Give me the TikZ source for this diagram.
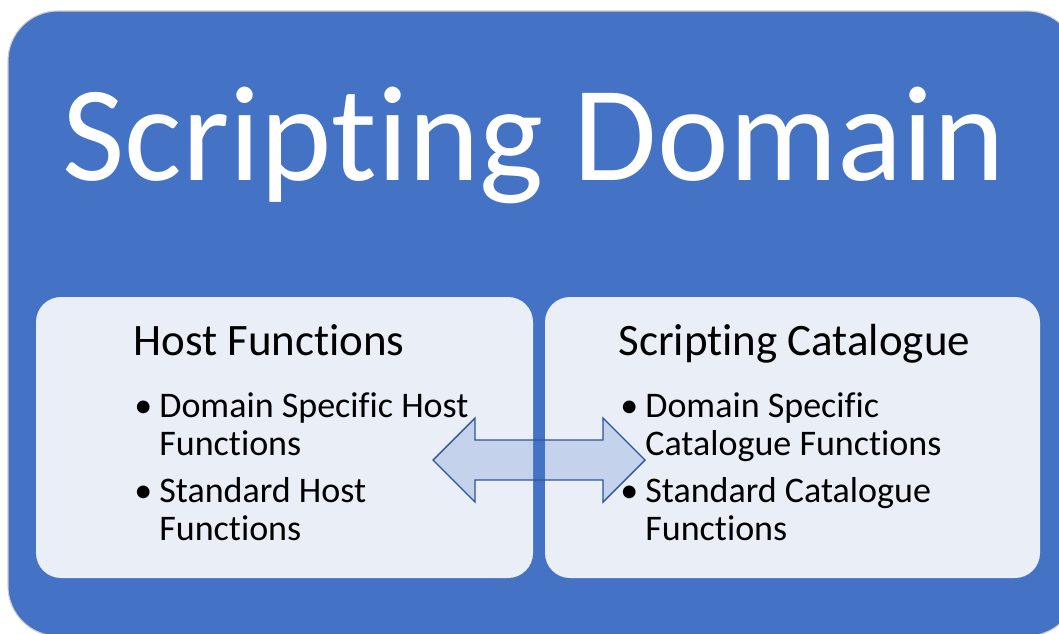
\documentclass[tikz,border=0pt]{standalone}
\usepackage{fontspec}
\setmainfont{Carlito}[RawFeature=-liga]
\usepackage{tikz}
\usetikzlibrary{positioning}
\definecolor{domainblue}{HTML}{4472C4}
\definecolor{panelfill}{HTML}{E9EEF7}
\definecolor{arrowline}{HTML}{2F5597}

\begin{document}
\begin{tikzpicture}[
    x=0.02cm, y=-0.02cm,
    domainbox/.style={fill=domainblue, draw=black!20, line width=0.6pt, rounded corners=1cm},
    panel/.style={fill=panelfill, rounded corners=0.5cm},
    dblarrow/.style={fill=domainblue, fill opacity=0.22, draw=arrowline, draw opacity=1, line width=0.8pt, line join=miter},
    ttl/.style={anchor=base, inner sep=0pt, text=white, font=\fontsize{77.3}{80}\selectfont},
    hdr/.style={anchor=base west, inner sep=0pt, font=\fontsize{25.6}{30}\selectfont},
    bul/.style={anchor=base west, inner sep=0pt, font=\fontsize{20.5}{21.5}\selectfont},
    itm/.style={anchor=base west, inner sep=0pt, align=left, font=\fontsize{20.5}{21.5}\selectfont},
  ]
  \useasboundingbox (0,0) rectangle (1059,633);
  \clip (0,0) rectangle (1059,633);

  % outer domain
  \fill[white] (0,0) rectangle (1059,633);
  \draw[domainbox] (8,11) rectangle (1077,636);
  \node[ttl] (title) at (534,180) {Scripting Domain};

  % the two panels
  \fill[panel] (36,297) rectangle (533,578);
  \fill[panel] (545,297) rectangle (1040,578);

  % exchange arrow
  \draw[dblarrow] (433,460) -- (475,418) -- (475,440) -- (603,440) -- (603,418)
    -- (645,460) -- (603,502) -- (603,480) -- (475,480) -- (475,502) -- cycle;

  % host functions (items anchored on their last line)
  \node[hdr] (host) at (133,355) {Host Functions};
  \node[bul] (hb1) at (134,417) {\textbullet};
  \node[itm] (hi1) at (159,455) {Domain Specific Host\\Functions};
  \node[bul] (hb2) at (134,502) {\textbullet};
  \node[itm] (hi2) at (159,540) {Standard Host\\Functions};

  % scripting catalogue
  \node[hdr] (cat) at (618,355) {Scripting Catalogue};
  \node[bul] (cb1) at (620,417) {\textbullet};
  \node[itm] (ci1) at (645,455) {Domain Specific\\Catalogue Functions};
  \node[bul] (cb2) at (620,502) {\textbullet};
  \node[itm] (ci2) at (645,540) {Standard Catalogue\\Functions};
\end{tikzpicture}
\end{document}
